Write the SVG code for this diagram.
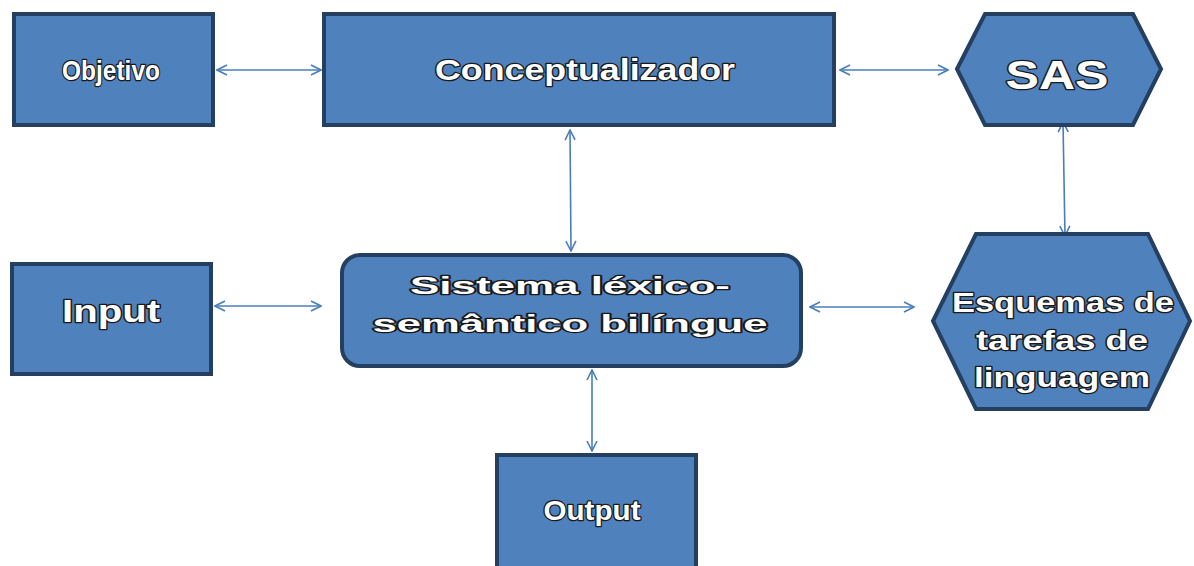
<svg xmlns="http://www.w3.org/2000/svg" width="1194" height="566" viewBox="0 0 1194 566">
<style>
.box{fill:#4F81BD;stroke:#243F60;stroke-width:4;}
.lbl{font-family:"Liberation Sans",Arial,sans-serif;font-weight:bold;fill:#ffffff;stroke:#1a1a1a;stroke-width:2.5;paint-order:stroke;text-anchor:middle;stroke-linejoin:round;}
.con{fill:none;stroke:#4A7EBB;stroke-width:1.6;marker-start:url(#arr);marker-end:url(#arr);}
</style>
<defs>
<marker id="arr" viewBox="0 0 12 12" refX="11" refY="6" markerWidth="12" markerHeight="12" markerUnits="userSpaceOnUse" orient="auto-start-reverse">
<path d="M1,1 L11,6 L1,11" fill="none" stroke="#4A7EBB" stroke-width="1.6"/>
</marker>
</defs>
<rect width="1194" height="566" fill="#ffffff"/>
<g id="connectors">
<line class="con" x1="217" y1="70" x2="321" y2="70"/>
<line class="con" x1="840" y1="70" x2="948" y2="70"/>
<line class="con" x1="570" y1="130" x2="571" y2="251"/>
<line class="con" x1="1063" y1="122" x2="1065" y2="236"/>
<line class="con" x1="215" y1="306" x2="321" y2="306"/>
<line class="con" x1="810" y1="307" x2="914" y2="307"/>
<line class="con" x1="592" y1="370" x2="592" y2="451"/>
</g>
<g id="objetivo">
<rect class="box" x="14" y="14" width="199" height="111"/>
<text class="lbl" x="111" y="80" font-size="28" textLength="98" lengthAdjust="spacingAndGlyphs">Objetivo</text>
</g>
<g id="conceptualizador">
<rect class="box" x="324" y="14" width="510" height="111"/>
<text class="lbl" x="585" y="80" font-size="30" textLength="300" lengthAdjust="spacingAndGlyphs">Conceptualizador</text>
</g>
<g id="sas">
<polygon class="box" points="957,69 985,14 1133,14 1161,69 1133,125 985,125"/>
<text class="lbl" x="1057" y="89" font-size="40" textLength="103" lengthAdjust="spacingAndGlyphs">SAS</text>
</g>
<g id="input">
<rect class="box" x="12" y="264" width="199" height="110"/>
<text class="lbl" x="111" y="322" font-size="31" textLength="98" lengthAdjust="spacingAndGlyphs">Input</text>
</g>
<g id="sistema">
<rect class="box" x="342" y="255" width="459" height="111" rx="18" ry="18"/>
<text class="lbl" x="570" y="294" font-size="23" textLength="320" lengthAdjust="spacingAndGlyphs">Sistema léxico-</text>
<text class="lbl" x="570" y="332" font-size="23" textLength="395" lengthAdjust="spacingAndGlyphs">semântico bilíngue</text>
</g>
<g id="esquemas">
<polygon class="box" points="933,321 976,234 1148,234 1190,321 1148,409 976,409"/>
<text class="lbl" x="1063" y="312" font-size="27" textLength="222" lengthAdjust="spacingAndGlyphs">Esquemas de</text>
<text class="lbl" x="1062" y="350" font-size="27" textLength="172" lengthAdjust="spacingAndGlyphs">tarefas de</text>
<text class="lbl" x="1062" y="387" font-size="27" textLength="176" lengthAdjust="spacingAndGlyphs">linguagem</text>
</g>
<g id="output">
<rect class="box" x="497" y="455" width="199" height="115"/>
<text class="lbl" x="592" y="520" font-size="28" textLength="97" lengthAdjust="spacingAndGlyphs">Output</text>
</g>
</svg>
